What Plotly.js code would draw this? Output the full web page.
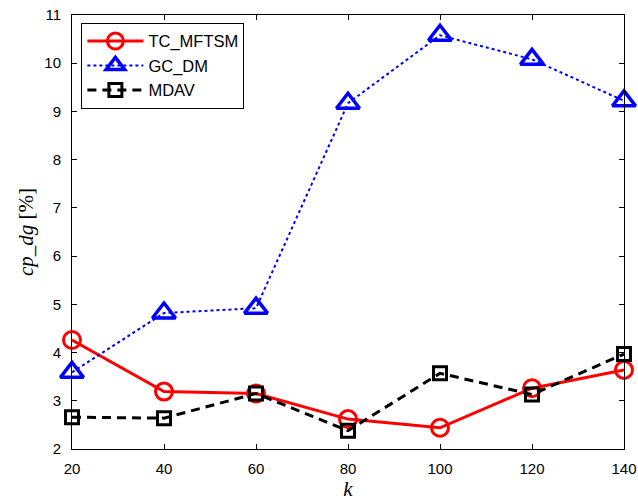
<!DOCTYPE html>
<html>
<head>
<meta charset="utf-8">
<script src="https://cdn.plot.ly/plotly-3.0.1.min.js"></script>
<style>html,body{margin:0;padding:0;background:#fff;}</style>
</head>
<body>
<div id="chart" style="width:638px;height:504px;"></div>
<script>
// k values on the x axis
const kValues = [20, 40, 60, 80, 100, 120, 140];
// cp_dg [%] for each method
const tcMftsm = [4.26, 3.19, 3.15, 2.62, 2.44, 3.26, 3.64];
const gcDm    = [3.59, 4.82, 4.92, 9.17, 10.58, 10.08, 9.22];
const mdav    = [2.66, 2.64, 3.15, 2.38, 3.57, 3.13, 3.97];

const xTicks = [20, 40, 60, 80, 100, 120, 140];
const yTicks = [2, 3, 4, 5, 6, 7, 8, 9, 10, 11];

const traces = [
  {
    x: kValues, y: tcMftsm, name: 'TC_MFTSM', type: 'scatter', mode: 'lines+markers',
    line: {color: '#ff0000', width: 3, dash: 'solid'},
    marker: {symbol: 'circle-open', size: 17, color: '#ff0000', line: {color: '#ff0000', width: 3}},
    cliponaxis: false
  },
  {
    x: kValues, y: gcDm, name: 'GC_DM', type: 'scatter', mode: 'lines+markers',
    line: {color: '#0000ff', width: 2, dash: 'dot'},
    marker: {symbol: 'triangle-up-open', size: 20, color: '#0000ff', line: {color: '#0000ff', width: 3.5}},
    cliponaxis: false
  },
  {
    x: kValues, y: mdav, name: 'MDAV', type: 'scatter', mode: 'lines+markers',
    line: {color: '#000000', width: 3, dash: '9px,6px'},
    marker: {symbol: 'square-open', size: 13, color: '#000000', line: {color: '#000000', width: 3}},
    cliponaxis: false
  }
];

const axisCommon = {
  showline: true, linecolor: '#000', linewidth: 1, mirror: 'ticks',
  ticks: 'inside', ticklen: 5, tickcolor: '#000', tickwidth: 1,
  showgrid: false, zeroline: false,
  tickfont: {family: 'Liberation Sans, Arial, sans-serif', size: 15, color: '#000'}
};

const layout = {
  width: 638, height: 504,
  margin: {l: 72, r: 14, t: 15, b: 55},
  paper_bgcolor: '#fff', plot_bgcolor: '#fff',
  showlegend: true,
  xaxis: Object.assign({}, axisCommon, {
    range: [20, 140], tickvals: xTicks, ticktext: xTicks.map(String),
    ticklabelstandoff: 6,
    title: {text: '<i>k</i>', standoff: 3,
      font: {family: 'Liberation Serif, Times New Roman, serif', size: 21, color: '#000'}}
  }),
  yaxis: Object.assign({}, axisCommon, {
    range: [2, 11], tickvals: yTicks, ticktext: yTicks.map(String),
    ticklabelstandoff: 7,
    title: {text: '<i>cp_dg</i> [%]', standoff: 4,
      font: {family: 'Liberation Serif, Times New Roman, serif', size: 21, color: '#000'}}
  }),
  legend: {
    x: 0.017, y: 0.982, xanchor: 'left', yanchor: 'top',
    bgcolor: '#fff', bordercolor: '#000', borderwidth: 1,
    font: {family: 'Liberation Sans, Arial, sans-serif', size: 16.5, color: '#000'},
    tracegroupgap: 0, itemwidth: 56
  }
};

Plotly.newPlot('chart', traces, layout, {displayModeBar: false, staticPlot: true});
</script>
</body>
</html>
